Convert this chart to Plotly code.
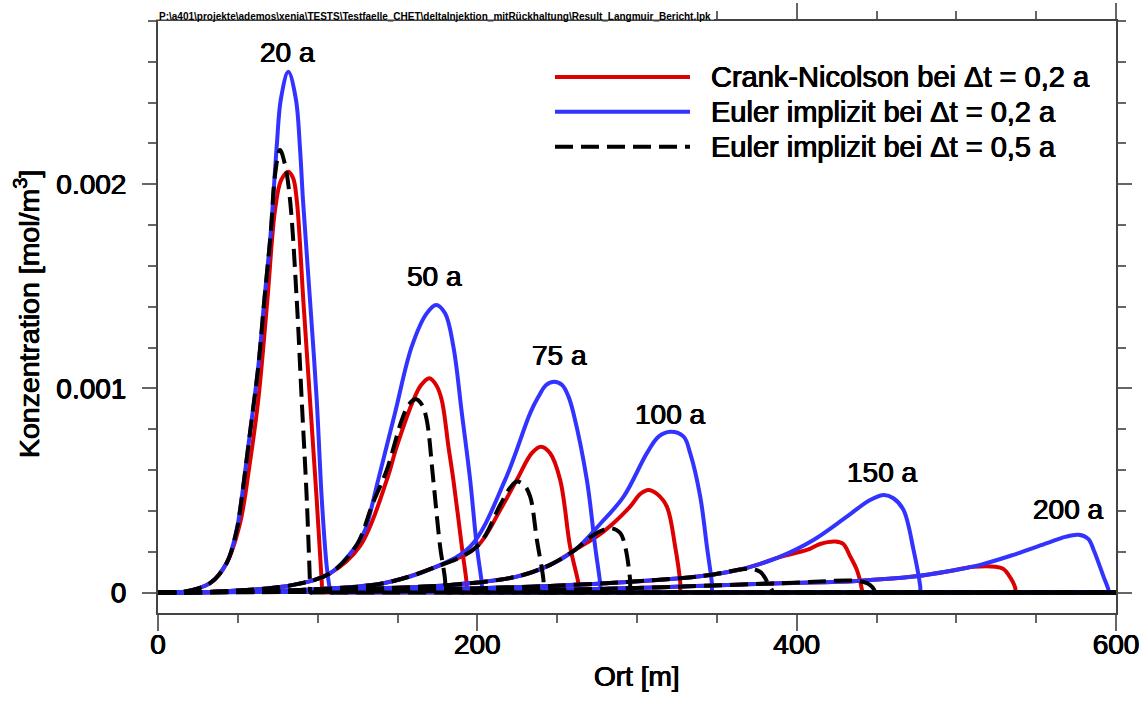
import plotly.graph_objects as go

FONT = "Liberation Sans, Arial, sans-serif"
HEAVY = "0.5px 0 0 #000, -0.5px 0 0 #000, 0 0.3px 0 #000"

# ---------------- data (Ort [m], Konzentration [mol/m3]) ----------------
time_labels = ["20 a", "50 a", "75 a", "100 a", "150 a", "200 a"]
label_x = [81.4, 172.9, 251.2, 320.8, 453.4, 570.1]
label_y = [0.002648, 0.001546, 0.001159, 0.00087, 0.000586, 0.000405]

# ---- 20 a
x_cn_20 = [0, 15.7, 32.6, 43.0, 51.4, 57.2, 62.8, 68.5, 73.3, 77.1, 81.6, 84.6, 86.9, 91.0, 95.2, 99.4, 102.6, 103.1, 104.6, 600]
y_cn_20 = [0, 3.4e-6, 4.6e-5, 1.45e-4, 3.41e-4, 6.17e-4, 9.44e-4, 1.433e-3, 1.874e-3, 2.02e-3, 2.062e-3, 2.031e-3, 1.923e-3, 1.433e-3, 9.44e-4, 4.54e-4, 4.75e-5, 0, 0, 0]
x_e2_20 = [0, 15.7, 32.6, 43.0, 49.3, 51.4, 57.6, 62.8, 66.6, 70.6, 74.4, 77.0, 81.6, 86.3, 89.0, 90.8, 95.2, 99.4, 102.6, 105.7, 107.8, 108.4, 109.9, 600]
y_e2_20 = [0, 3.4e-6, 4.6e-5, 1.45e-4, 3.07e-4, 4.05e-4, 7.82e-4, 1.107e-3, 1.433e-3, 1.762e-3, 2.19e-3, 2.42e-3, 2.551e-3, 2.42e-3, 2.168e-3, 1.923e-3, 1.433e-3, 9.44e-4, 4.54e-4, 1.26e-4, 1.32e-5, 0, 0, 0]
x_e5_20 = [0, 15.7, 32.6, 43.0, 49.3, 51.4, 57.6, 62.8, 66.6, 70.6, 73.3, 76.4, 79.6, 82.7, 86.9, 90.0, 93.2, 95.2, 95.5, 97.0, 600]
y_e5_20 = [0, 3.4e-6, 4.6e-5, 1.45e-4, 3.07e-4, 4.05e-4, 7.82e-4, 1.107e-3, 1.433e-3, 1.762e-3, 2.046e-3, 2.168e-3, 2.094e-3, 1.923e-3, 1.433e-3, 9.44e-4, 4.54e-4, 4.75e-5, 0, 0, 0]

# ---- 50 a
x_cn_50 = [0, 45.1, 84.8, 107.8, 126.6, 143.3, 149.5, 160.0, 164.8, 170.0, 174.2, 177.7, 181.9, 185.0, 190.3, 193.3, 193.7, 195.2, 600]
y_cn_50 = [0, 8.3e-6, 3.77e-5, 9.5e-5, 2.29e-4, 5.52e-4, 7.15e-4, 9.44e-4, 1.017e-3, 1.05e-3, 1.017e-3, 9.44e-4, 7.15e-4, 5.52e-4, 2.25e-4, 4.75e-5, 0, 0, 0]
x_e2_50 = [0, 45.1, 84.8, 107.8, 124.5, 129.7, 137.9, 148.4, 158.9, 168.3, 174.2, 179.8, 185.0, 190.3, 195.5, 199.7, 202.8, 203.3, 204.8, 600]
y_e2_50 = [0, 8.3e-6, 3.77e-5, 9.5e-5, 2.34e-4, 3.07e-4, 5.52e-4, 8.79e-4, 1.205e-3, 1.368e-3, 1.409e-3, 1.368e-3, 1.205e-3, 8.79e-4, 5.52e-4, 2.25e-4, 4.65e-5, 0, 0, 0]
x_e5_50 = [0, 45.1, 84.8, 107.8, 124.5, 134.1, 143.3, 152.7, 157.3, 161.6, 165.4, 168.3, 172.4, 176.7, 179.8, 180.1, 181.6, 600]
y_e5_50 = [0, 8.3e-6, 3.77e-5, 9.5e-5, 2.34e-4, 4.29e-4, 6.01e-4, 8.46e-4, 9.24e-4, 9.47e-4, 9.19e-4, 8.46e-4, 5.52e-4, 2.25e-4, 6.2e-5, 0, 0, 0]

# ---- 75 a
x_cn_75 = [0, 89.0, 141.2, 172.5, 199.7, 214.3, 224.7, 234.1, 239.8, 245.6, 251.9, 258.1, 263.3, 263.8, 265.3, 600]
y_cn_75 = [0, 1.32e-5, 4.6e-5, 1.21e-4, 2.25e-4, 4.05e-4, 5.52e-4, 6.83e-4, 7.15e-4, 6.83e-4, 5.52e-4, 2.25e-4, 4.6e-5, 0, 0, 0]
x_e2_75 = [0, 89.0, 141.2, 172.5, 195.5, 217.4, 233.1, 238.3, 243.1, 248.1, 253.1, 257.1, 260.2, 268.6, 273.8, 276.9, 277.4, 278.9, 600]
y_e2_75 = [0, 1.32e-5, 4.6e-5, 1.21e-4, 2.25e-4, 5.52e-4, 8.79e-4, 9.6e-4, 1.017e-3, 1.033e-3, 1.017e-3, 9.6e-4, 8.79e-4, 5.52e-4, 2.25e-4, 4.75e-5, 0, 0, 0]
x_e5_75 = [0, 89.0, 141.2, 172.5, 199.7, 214.3, 220.5, 224.7, 229.3, 233.1, 237.3, 241.4, 241.6, 243.1, 600]
y_e5_75 = [0, 1.32e-5, 4.6e-5, 1.21e-4, 2.25e-4, 4.29e-4, 5.13e-4, 5.44e-4, 5.27e-4, 4.7e-4, 2.58e-4, 6.2e-5, 0, 0, 0]

# ---- 100 a
x_cn_100 = [0, 89.0, 182.9, 224.7, 245.6, 261.2, 279.0, 295.7, 302.0, 307.2, 312.6, 318.7, 323.9, 327.1, 327.4, 328.9, 600]
y_cn_100 = [0, 1.08e-5, 3.77e-5, 7.84e-5, 1.36e-4, 2.09e-4, 2.99e-4, 4.21e-4, 4.83e-4, 5.03e-4, 4.83e-4, 4.21e-4, 2.25e-4, 4.75e-5, 0, 0, 0]
x_e2_100 = [0, 89.0, 182.9, 224.7, 245.6, 261.2, 276.9, 291.6, 306.2, 313.5, 320.8, 329.2, 333.3, 339.6, 343.8, 346.9, 347.3, 348.8, 600]
y_e2_100 = [0, 1.08e-5, 3.77e-5, 7.84e-5, 1.36e-4, 2.09e-4, 3.36e-4, 4.7e-4, 6.83e-4, 7.64e-4, 7.88e-4, 7.64e-4, 6.83e-4, 4.7e-4, 2.25e-4, 4.75e-5, 0, 0, 0]
x_e5_100 = [0, 89.0, 182.9, 224.7, 245.6, 261.2, 271.9, 279.0, 284.2, 289.5, 292.6, 295.7, 296.0, 297.5, 600]
y_e5_100 = [0, 1.08e-5, 3.77e-5, 7.84e-5, 1.36e-4, 2.09e-4, 2.78e-4, 3.07e-4, 3.15e-4, 2.92e-4, 2.25e-4, 6.2e-5, 0, 0, 0]

# ---- 150 a
x_cn_150 = [0, 151.6, 245.6, 327.0, 347.9, 364.6, 377.2, 389.7, 406.4, 414.7, 424.2, 429.2, 433.6, 437.7, 440.9, 441.1, 442.6, 600]
y_cn_150 = [0, 1.32e-5, 3.28e-5, 7.05e-5, 8.91e-5, 1.13e-4, 1.41e-4, 1.75e-4, 2.09e-4, 2.38e-4, 2.5e-4, 2.38e-4, 1.76e-4, 1.11e-4, 1.32e-5, 0, 0, 0]
x_e2_150 = [0, 151.6, 245.6, 327.0, 347.9, 364.6, 377.2, 389.7, 410.5, 431.4, 446.0, 454.8, 460.6, 466.9, 473.2, 477.4, 477.7, 479.2, 600]
y_e2_150 = [0, 1.32e-5, 3.28e-5, 7.05e-5, 8.91e-5, 1.13e-4, 1.41e-4, 1.76e-4, 2.58e-4, 3.72e-4, 4.54e-4, 4.78e-4, 4.62e-4, 4.05e-4, 2.09e-4, 2.94e-5, 0, 0, 0]
x_e5_150 = [0, 151.6, 245.6, 327.0, 347.9, 364.6, 372.0, 377.2, 380.3, 382.4, 384.5, 384.7, 386.2, 600]
y_e5_150 = [0, 1.32e-5, 3.28e-5, 7.05e-5, 8.91e-5, 1.13e-4, 1.16e-4, 1.01e-4, 7.05e-5, 3.77e-5, 1.32e-5, 0, 0, 0]

# ---- 200 a
x_cn_200 = [0, 151.6, 276.9, 389.7, 437.7, 473.2, 494.1, 510.6, 524.4, 529.4, 532.7, 536.9, 537.1, 538.6, 600]
y_cn_200 = [0, 5.9e-6, 1.81e-5, 4.6e-5, 5.73e-5, 7.84e-5, 1.03e-4, 1.26e-4, 1.27e-4, 1.16e-4, 8.67e-5, 2.3e-5, 0, 0, 0]
x_e2_200 = [0, 151.6, 276.9, 389.7, 437.7, 473.2, 494.1, 515.0, 535.8, 556.8, 568.2, 576.6, 582.6, 586.0, 592.2, 595.3, 595.5, 597.0, 600]
y_e2_200 = [0, 5.9e-6, 1.81e-5, 4.6e-5, 5.73e-5, 7.84e-5, 1.03e-4, 1.36e-4, 1.85e-4, 2.42e-4, 2.73e-4, 2.83e-4, 2.63e-4, 2.09e-4, 7.84e-5, 1.32e-5, 0, 0, 0]
x_e5_200 = [0, 151.6, 276.9, 389.7, 437.7, 444.0, 447.1, 449.2, 449.4, 450.9, 600]
y_e5_200 = [0, 5.9e-6, 1.81e-5, 4.6e-5, 5.73e-5, 4.6e-5, 2.94e-5, 4.9e-6, 0, 0, 0]

legend_names = ["Crank-Nicolson bei \u0394t = 0,2 a",
                "Euler implizit bei \u0394t = 0,2 a",
                "Euler implizit bei \u0394t = 0,5 a"]
colors = ["#DD0000", "#3333FF", "#000000"]
dashes = ["solid", "solid", "18px,8px"]

groups = [
    [(x_cn_20, y_cn_20), (x_cn_50, y_cn_50), (x_cn_75, y_cn_75), (x_cn_100, y_cn_100), (x_cn_150, y_cn_150), (x_cn_200, y_cn_200)],
    [(x_e2_20, y_e2_20), (x_e2_50, y_e2_50), (x_e2_75, y_e2_75), (x_e2_100, y_e2_100), (x_e2_150, y_e2_150), (x_e2_200, y_e2_200)],
    [(x_e5_20, y_e5_20), (x_e5_50, y_e5_50), (x_e5_75, y_e5_75), (x_e5_100, y_e5_100), (x_e5_150, y_e5_150), (x_e5_200, y_e5_200)],
]

fig = go.Figure()
for gi, grp in enumerate(groups):
    for ti, (xs, ys) in enumerate(grp):
        fig.add_trace(go.Scatter(
            x=xs, y=ys, mode="lines",
            name=legend_names[gi], legendgroup=legend_names[gi],
            showlegend=False,
            line=dict(color=colors[gi], width=4, dash=dashes[gi], shape="spline", smoothing=1.0),
            hoverinfo="skip",
        ))

big = dict(family=FONT, size=28, color="black", shadow=HEAVY)

# time labels
for t, lx, ly in zip(time_labels, label_x, label_y):
    fig.add_annotation(x=lx, y=ly, xref="x", yref="y", text=t, showarrow=False,
                       font=big, xanchor="center", yanchor="middle")

# legend (drawn manually to get long line samples)
leg_y = [0.9054, 0.8468, 0.7877]
for i in range(3):
    fig.add_shape(type="line", xref="paper", yref="paper",
                  x0=0.4144, x1=0.5553, y0=leg_y[i], y1=leg_y[i],
                  line=dict(color=colors[i], width=4, dash=dashes[i]))
    fig.add_annotation(xref="paper", yref="paper", x=0.5752, y=leg_y[i],
                       text=legend_names[i], showarrow=False, xanchor="left", yanchor="middle",
                       font=dict(family=FONT, size=29, color="black", shadow=HEAVY))

# file-path header
fig.add_shape(type="rect", xref="paper", yref="paper", x0=-0.009, x1=0.5804, y0=1.0025, y1=1.04,
              line=dict(width=0), fillcolor="white", layer="above")
fig.add_annotation(xref="paper", yref="paper", x=-0.001, y=1.0068, xanchor="left", yanchor="middle",
                   text=r"P:\a401\projekte\ademos\xenia\TESTS\Testfaelle_CHET\deltaInjektion_mitRückhaltung\Result_Langmuir_Bericht.lpk",
                   showarrow=False, font=dict(family=FONT, size=10, color="black", weight="bold"))

# axis titles
fig.add_annotation(xref="paper", yref="paper", x=0.5, y=-0.108, text="Ort [m]", showarrow=False,
                   xanchor="center", yanchor="middle", font=big)
fig.add_annotation(xref="paper", yref="paper", x=-0.1367, y=0.505, text="Konzentration [mol/m<sup>3</sup>]",
                   showarrow=False, textangle=-90, xanchor="center", yanchor="middle",
                   font=dict(family=FONT, size=28.5, color="black", shadow=HEAVY))

axis_common = dict(showline=True, linecolor="#444444", linewidth=2, mirror="ticks",
                   ticks="outside", tickwidth=2, tickcolor="#666666",
                   showgrid=False, zeroline=False, automargin=False,
                   tickfont=big)

fig.update_xaxes(range=[0, 600], tickmode="array", tickvals=[0, 200, 400, 600],
                 ticktext=["0", "200", "400", "600"], ticklen=16, ticklabelstandoff=-11,
                 minor=dict(tickmode="linear", tick0=0, dtick=50, ticks="outside", ticklen=8,
                            tickwidth=2, tickcolor="#666666", showgrid=False),
                 **axis_common)
fig.update_yaxes(range=[-0.0001, 0.0028], tickmode="array", tickvals=[0, 0.001, 0.002],
                 ticktext=["0", "0.001", "0.002"], ticklen=14, ticklabelstandoff=10,
                 minor=dict(tickmode="linear", tick0=0, dtick=0.0002, ticks="outside", ticklen=8,
                            tickwidth=2, tickcolor="#666666", showgrid=False),
                 **axis_common)

fig.update_layout(width=1146, height=706, margin=dict(l=158, r=30, t=21, b=93, autoexpand=False),
                  paper_bgcolor="white", plot_bgcolor="white", showlegend=False,
                  font=dict(family=FONT, color="black"))

fig.write_html("out.html")
